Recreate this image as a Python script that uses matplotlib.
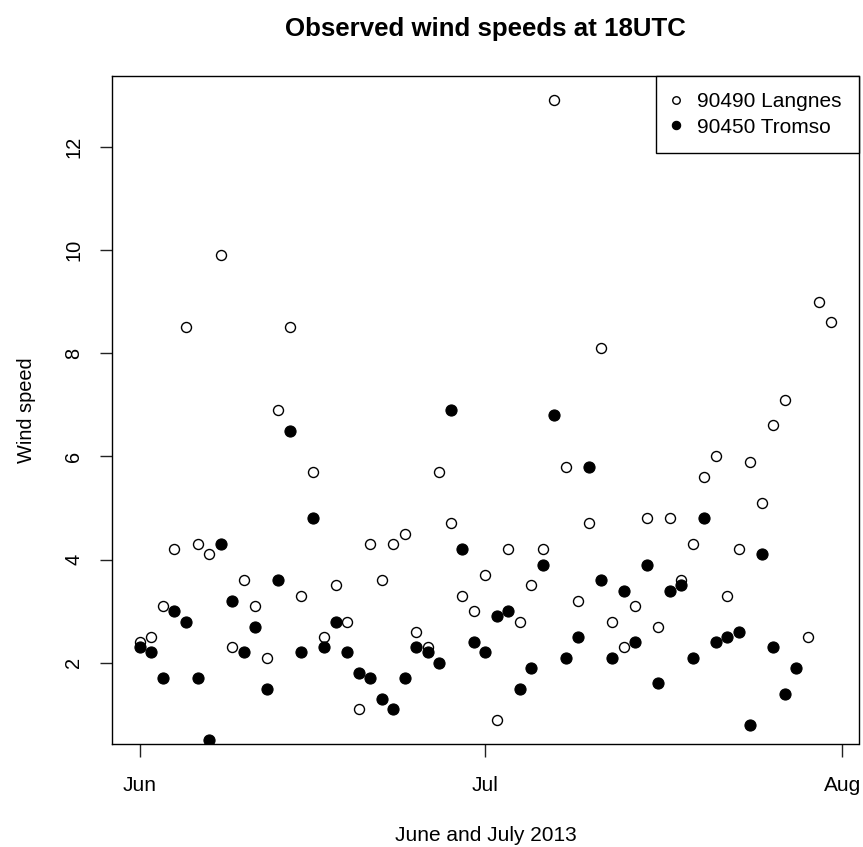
import numpy as np
import pandas as pd
import matplotlib
matplotlib.use("Agg")
import matplotlib.pyplot as plt
import matplotlib.dates as mdates

plt.rcParams['font.family'] = ['Liberation Sans', 'DejaVu Sans']

# 18 UTC wind speed observations, 1 June - 31 July 2013
dates = pd.date_range("2013-06-01", "2013-07-31", freq="D")
nan = np.nan
langnes = [2.4, 2.5, 3.1, 4.2, 8.5, 4.3, 4.1, 9.9, 2.3, 3.6, 3.1, 2.1, 6.9, 8.5, 3.3, 5.7,
           2.5, 3.5, 2.8, 1.1, 4.3, 3.6, 4.3, 4.5, 2.6, 2.3, 5.7, 4.7, 3.3, 3.0, 3.7, 0.9,
           4.2, 2.8, 3.5, 4.2, 12.9, 5.8, 3.2, 4.7, 8.1, 2.8, 2.3, 3.1, 4.8, 2.7, 4.8,
           3.6, 4.3, 5.6, 6.0, 3.3, 4.2, 5.9, 5.1, 6.6, 7.1, nan, 2.5, 9.0, 8.6]
tromso = [2.3, 2.2, 1.7, 3.0, 2.8, 1.7, 0.5, 4.3, 3.2, 2.2, 2.7, 1.5, 3.6, 6.5, 2.2,
          4.8, 2.3, 2.8, 2.2, 1.8, 1.7, 1.3, 1.1, 1.7, 2.3, 2.2, 2.0, 6.9, 4.2, 2.4, 2.2, 2.9,
          3.0, 1.5, 1.9, 3.9, 6.8, 2.1, 2.5, 5.8, 3.6, 2.1, 3.4, 2.4, 3.9, 1.6, 3.4,
          3.5, 2.1, 4.8, 2.4, 2.5, 2.6, 0.8, 4.1, 2.3, 1.4, 1.9, nan, nan, nan]
series_labels = ["90490 Langnes", "90450 Tromso"]
month_ticks = pd.to_datetime(["2013-06-01", "2013-07-01", "2013-08-01"])

W, H = 863, 847
fig = plt.figure(figsize=(W / 100, H / 100), dpi=100)
ax = fig.add_axes([112.3 / W, 1 - 744.3 / H, (858.5 - 112.3) / W, (744.3 - 75.7) / H])

ax.plot(dates, langnes, linestyle="none", marker="o", ms=7.2, mfc="white",
        mec="black", mew=1.0, label=series_labels[0])
ax.plot(dates, tromso, linestyle="none", marker="o", ms=8.0, mfc="black",
        mec="black", mew=0.8, label=series_labels[1])

# axis ranges padded by 4% of the Langnes data range on each side
lv = np.array(langnes, dtype=float)
lo, hi = np.nanmin(lv), np.nanmax(lv)
pad = 0.04 * (hi - lo)
ax.set_ylim(lo - pad, hi + pad)
xnum = mdates.date2num(dates)
xpad = 0.04 * (xnum[-1] - xnum[0])
ax.set_xlim(xnum[0] - xpad, xnum[-1] + xpad)

ax.set_xticks(month_ticks)
ax.xaxis.set_major_formatter(mdates.DateFormatter("%b"))
ax.set_yticks([2, 4, 6, 8, 10, 12])
ax.tick_params(axis="both", direction="out", length=9, width=1.0, color="#222222")
ax.tick_params(axis="x", pad=14, labelsize=15)
ax.tick_params(axis="y", pad=12, labelsize=14.4)
for lab in ax.get_yticklabels():
    lab.set_rotation(90)
    lab.set_va("center")
for s in ax.spines.values():
    s.set_linewidth(1.0)
    s.set_color("black")

ax.set_xlabel("June and July 2013", fontsize=15, labelpad=22)
ax.set_ylabel("Wind speed", fontsize=14.4, labelpad=20)
ax.set_title("Observed wind speeds at 18UTC", fontsize=18.6, fontweight="bold", pad=28.5)

leg = ax.legend(loc="upper right", bbox_to_anchor=(1, 1), borderaxespad=0,
                fancybox=False, edgecolor="black", framealpha=1, fontsize=15,
                handlelength=0.25, handletextpad=0.92, borderpad=0.8, labelspacing=0.3,
                markerscale=0.75)
leg.get_frame().set_linewidth(1.0)

fig.savefig("out.png", dpi=100)
